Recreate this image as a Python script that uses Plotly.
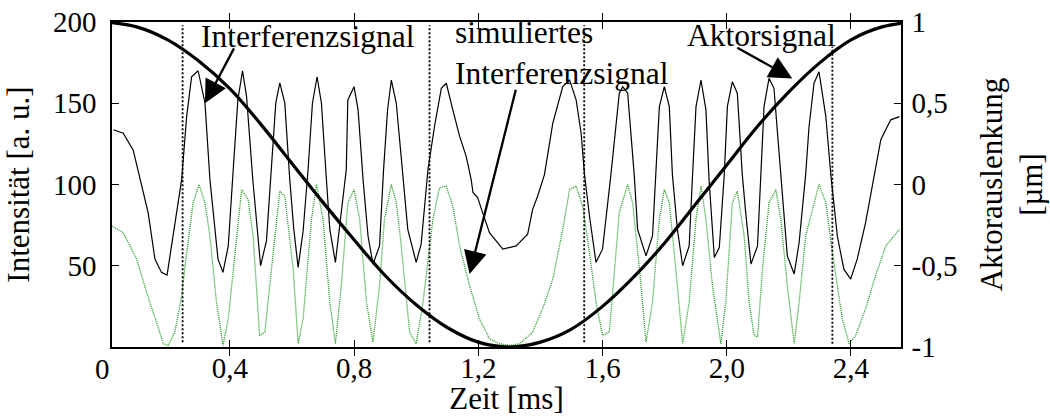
import plotly.graph_objects as go

# ---------------- data ----------------
# measured interference signal  (time in ms, intensity in a.u.)
t_meas = [0.025, 0.057, 0.089, 0.111, 0.137, 0.159, 0.180, 0.198, 0.218, 0.245,
          0.261, 0.277, 0.298, 0.320, 0.336, 0.362, 0.378, 0.395, 0.411, 0.426,
          0.441, 0.454, 0.474, 0.486, 0.499, 0.518, 0.534, 0.548, 0.561, 0.577,
          0.593, 0.606, 0.620, 0.636, 0.652, 0.666, 0.681, 0.695, 0.711, 0.722,
          0.740, 0.748, 0.775, 0.780, 0.800, 0.813, 0.829, 0.845, 0.861, 0.882,
          0.895, 0.908, 0.920, 0.936, 0.957, 0.973, 1.000, 1.016, 1.038, 1.059,
          1.081, 1.097, 1.118, 1.140, 1.161, 1.177, 1.183, 1.198, 1.214, 1.236,
          1.279, 1.322, 1.359, 1.375, 1.391, 1.413, 1.440, 1.472, 1.494, 1.515,
          1.531, 1.542, 1.558, 1.579, 1.600, 1.627, 1.654, 1.665, 1.681, 1.702,
          1.713, 1.740, 1.761, 1.772, 1.783, 1.799, 1.815, 1.825, 1.841, 1.858,
          1.879, 1.890, 1.901, 1.917, 1.933, 1.943, 1.960, 1.976, 1.992, 2.002,
          2.018, 2.034, 2.050, 2.061, 2.078, 2.099, 2.110, 2.120, 2.136, 2.152,
          2.174, 2.195, 2.217, 2.233, 2.254, 2.265, 2.281, 2.297, 2.319, 2.335,
          2.356, 2.377, 2.399, 2.420, 2.447, 2.474, 2.496, 2.528, 2.556]
i_meas = [133.7, 131.6, 121.1, 103.1, 82.7, 54.1, 45.9, 44.3, 68.3, 103.1,
          141.8, 166.3, 170.0, 150.2, 103.1, 54.1, 45.9, 62.2, 109.2, 152.1,
          170.0, 154.1, 103.1, 78.6, 50.0, 65.3, 109.2, 150.2, 162.5, 150.2,
          103.1, 72.4, 49.0, 71.4, 109.2, 150.0, 166.3, 150.0, 103.1, 72.4,
          52.1, 64.3, 109.2, 152.0, 160.2, 145.9, 103.1, 68.3, 51.0, 62.2,
          109.0, 146.0, 164.3, 150.0, 103.1, 72.4, 52.1, 63.3, 109.2, 135.7,
          159.2, 162.3, 145.9, 129.6, 117.3, 103.1, 95.1, 91.9, 82.7, 70.4,
          60.2, 62.2, 69.4, 84.7, 92.8, 106.1, 137.8, 160.2, 164.3, 152.1,
          131.7, 106.1, 80.6, 52.1, 60.2, 106.1, 156.2, 160.2, 156.2, 106.1,
          72.4, 56.1, 68.3, 106.1, 147.9, 160.2, 147.9, 106.1, 72.4, 50.0,
          62.2, 106.1, 147.9, 164.3, 145.9, 103.1, 55.1, 61.2, 106.1, 147.9,
          163.3, 156.2, 106.1, 82.7, 51.0, 62.2, 106.1, 147.9, 165.3, 159.2,
          106.1, 56.1, 44.9, 64.3, 106.1, 135.7, 162.3, 169.4, 141.8, 106.1,
          68.3, 47.9, 41.8, 54.1, 76.5, 106.1, 127.6, 139.8, 141.8]

# simulated interference signal
t_sim = [0.020, 0.057, 0.100, 0.132, 0.164, 0.186, 0.202, 0.223, 0.245, 0.261,
         0.282, 0.301, 0.320, 0.336, 0.357, 0.378, 0.395, 0.416, 0.438, 0.459,
         0.475, 0.496, 0.513, 0.534, 0.561, 0.577, 0.604, 0.620, 0.636, 0.663,
         0.679, 0.700, 0.722, 0.740, 0.759, 0.780, 0.800, 0.818, 0.840, 0.861,
         0.882, 0.898, 0.920, 0.936, 0.950, 0.979, 1.000, 1.022, 1.054, 1.075,
         1.097, 1.118, 1.140, 1.172, 1.204, 1.236, 1.268, 1.300, 1.333, 1.375,
         1.407, 1.440, 1.472, 1.494, 1.515, 1.536, 1.558, 1.579, 1.600, 1.622,
         1.654, 1.681, 1.697, 1.719, 1.740, 1.761, 1.783, 1.799, 1.815, 1.836,
         1.858, 1.879, 1.901, 1.917, 1.933, 1.954, 1.965, 1.981, 1.997, 2.018,
         2.034, 2.056, 2.072, 2.088, 2.099, 2.115, 2.136, 2.158, 2.174, 2.195,
         2.217, 2.233, 2.254, 2.281, 2.297, 2.319, 2.340, 2.372, 2.394, 2.415,
         2.447, 2.479, 2.512, 2.556]
i_sim = [74.5, 70.4, 54.1, 33.7, 15.3, 2.0, 1.0, 9.2, 31.6, 58.2,
         88.8, 100.0, 88.8, 68.3, 27.6, 1.0, 17.3, 58.2, 96.9, 90.8,
         68.3, 7.1, 9.2, 47.9, 95.9, 92.8, 47.9, 2.0, 17.3, 78.6,
         100.0, 78.6, 27.6, 2.0, 37.7, 88.8, 96.9, 78.6, 27.6, 3.1,
         37.7, 78.6, 100.0, 88.8, 66.0, 9.2, 2.0, 27.6, 78.6, 98.0,
         99.0, 86.7, 62.2, 37.7, 17.3, 5.1, 2.0, 1.0, 2.0, 9.2,
         23.5, 41.8, 72.4, 96.9, 99.0, 86.7, 58.2, 27.6, 7.1, 9.2,
         82.7, 100.0, 88.8, 47.9, 3.1, 27.6, 78.6, 96.9, 88.8, 47.9,
         2.0, 27.6, 78.6, 99.0, 78.6, 37.7, 23.5, 2.0, 27.6, 88.8,
         95.9, 68.3, 27.6, 7.1, 6.1, 47.9, 88.8, 96.9, 78.6, 37.7,
         2.0, 27.6, 68.3, 88.8, 100.0, 88.8, 58.2, 17.3, 2.0, 7.1,
         23.5, 43.8, 62.2, 72.4]

# actuator signal (deflection in µm, right axis)
t_act = [0.0, 0.1, 0.2, 0.3, 0.4, 0.5, 0.6, 0.7, 0.8, 0.9,
         1.0, 1.1, 1.2, 1.3, 1.4, 1.5, 1.6, 1.7, 1.8, 1.9,
         2.0, 2.1, 2.2, 2.3, 2.4, 2.5, 2.6]
d_act = [1.0, 0.97, 0.89, 0.76, 0.59, 0.37, 0.13, -0.11, -0.34, -0.56,
         -0.74, -0.88, -0.97, -1.0, -0.97, -0.89, -0.75, -0.57, -0.36, -0.12,
         0.12, 0.36, 0.57, 0.75, 0.89, 0.97, 1.0]

# dotted vertical markers (ms) and their vertical extent (a.u.)
marker_t = [0.248, 1.043, 1.541, 2.340]
marker_top = [198, 198, 198, 185]
marker_bottom = [3, 3, 3, 2]

x_range = [0.0207, 2.561]
x_tickvals = [0.4, 0.8, 1.2, 1.6, 2.0, 2.4]
x_ticktext = ["0,4", "0,8", "1,2", "1,6", "2,0", "2,4"]
y1_tickvals = [50, 100, 150, 200]
y1_ticktext = ["50", "100", "150", "200"]
y2_tickvals = [-1, -0.5, 0, 0.5, 1]
y2_ticktext = ["-1", "-0,5", "0", "0,5", "1"]

FONT = "Liberation Serif"
TICK = 29
TITLE = 31
ANN = 31.5

fig = go.Figure()

fig.add_trace(go.Scatter(x=t_sim, y=i_sim, mode="lines",
                         line=dict(color="#1f9a1f", width=1.3, dash="1px,1px"),
                         showlegend=False, yaxis="y"))
fig.add_trace(go.Scatter(x=t_meas, y=i_meas, mode="lines",
                         line=dict(color="black", width=1.2),
                         showlegend=False, yaxis="y"))
fig.add_trace(go.Scatter(x=t_act, y=d_act, mode="lines",
                         line=dict(color="black", width=3.2, shape="spline", smoothing=1.0),
                         showlegend=False, yaxis="y2"))

for xm, yt, yb in zip(marker_t, marker_top, marker_bottom):
    fig.add_shape(type="line", xref="x", yref="y", x0=xm, x1=xm, y0=yb, y1=yt,
                  line=dict(color="black", width=1.8, dash="2px,2px"))

axis_common = dict(showline=True, linecolor="black", linewidth=1.5,
                   ticks="inside", ticklen=7, tickwidth=1.3, tickcolor="black",
                   showgrid=False, zeroline=False, automargin=False,
                   tickfont=dict(family=FONT, size=TICK, color="black"))

fig.update_layout(
    width=1050, height=416,
    margin=dict(l=112, r=149, t=22, b=69),
    paper_bgcolor="white", plot_bgcolor="white",
    font=dict(family=FONT, color="black"),
    xaxis=dict(range=x_range, tickvals=x_tickvals, ticktext=x_ticktext,
               mirror="allticks", ticklabelstandoff=-6,
               title=dict(text="Zeit [ms]", font=dict(family=FONT, size=TITLE), standoff=0),
               **axis_common),
    yaxis=dict(range=[0, 200], tickvals=y1_tickvals, ticktext=y1_ticktext,
               ticklabelstandoff=8,
               title=dict(text="Intensität [a. u.]", font=dict(family=FONT, size=TITLE), standoff=14),
               **axis_common),
    yaxis2=dict(range=[-1, 1], overlaying="y", side="right",
                tickvals=y2_tickvals, ticktext=y2_ticktext, ticklabelstandoff=3,
                title=dict(text="Aktorauslenkung<br>[µm]", font=dict(family=FONT, size=TITLE), standoff=24),
                **axis_common),
)

annfont = dict(family=FONT, size=ANN, color="black")
# labels
fig.add_annotation(x=0.653, y=190.8, xref="x", yref="y", text="Interferenzsignal",
                   showarrow=False, font=annfont, xanchor="center", yanchor="middle")
fig.add_annotation(x=1.118, y=181, xref="x", yref="y", text="simuliertes<br>Interferenzsignal",
                   showarrow=False, font=annfont, xanchor="left", yanchor="middle", align="left")
fig.add_annotation(x=2.111, y=191.5, xref="x", yref="y", text="Aktorsignal",
                   showarrow=False, font=annfont, xanchor="center", yanchor="middle")

# arrows
arrows = [
    dict(x=0.320, y=150.0, ax=0.416, ay=184.7),
    dict(x=1.172, y=44.9, ax=1.322, ay=159.2),
    dict(x=2.211, y=165.3, ax=2.029, ay=184.7),
]
for a in arrows:
    fig.add_annotation(x=a["x"], y=a["y"], ax=a["ax"], ay=a["ay"], xref="x", yref="y",
                       axref="x", ayref="y", text="", showarrow=True,
                       arrowhead=2, arrowsize=2.0, arrowwidth=2.3, arrowcolor="black")

# tick label "0" at the origin (lies just left of the visible range)
x0_paper = (0 - x_range[0]) / (x_range[1] - x_range[0])
fig.add_annotation(x=x0_paper, y=0, xref="paper", yref="paper", text="0", showarrow=False,
                   font=dict(family=FONT, size=TICK, color="black"),
                   xanchor="center", yanchor="top", yshift=-4, xshift=-3)

fig.write_html("out.html", config={"displayModeBar": False},
               post_script="document.body.style.margin='0';")
